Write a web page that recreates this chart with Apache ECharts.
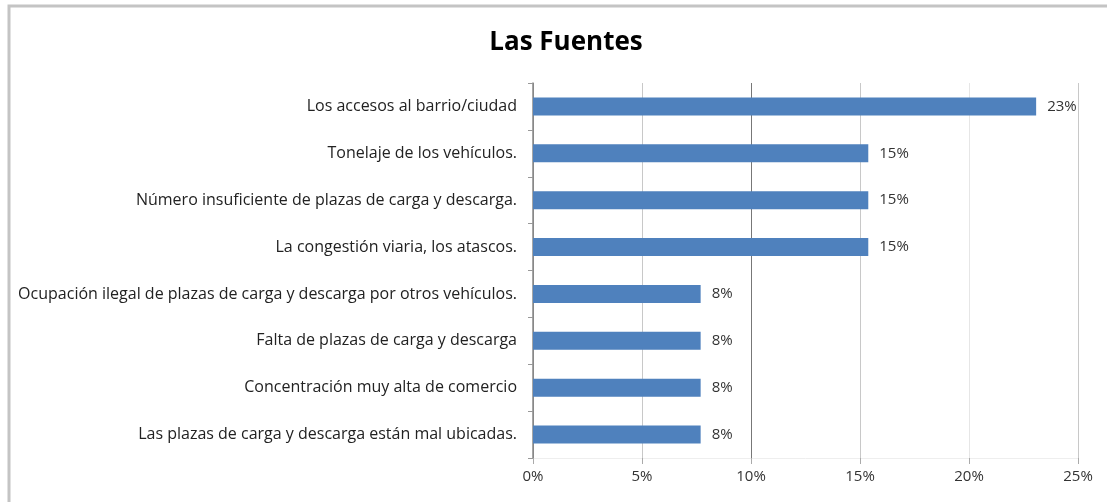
<!DOCTYPE html>
<html>
<head>
<meta charset="utf-8">
<script src="https://cdn.jsdelivr.net/npm/echarts@6/dist/echarts.min.js"></script>
<style>
  html, body { margin: 0; padding: 0; background: #fff; }
  #chart { width: 1107px; height: 502px; }
</style>
</head>
<body>
<div id="chart"></div>
<script>
// categorías (de arriba a abajo) y porcentajes
var categorias = [
    'Los accesos al barrio/ciudad',
    'Tonelaje de los vehículos.',
    'Número insuficiente de plazas de carga y descarga.',
    'La congestión viaria, los atascos.',
    'Ocupación ilegal de plazas de carga y descarga por otros vehículos.',
    'Falta de plazas de carga y descarga',
    'Concentración muy alta de comercio',
    'Las plazas de carga y descarga están mal ubicadas.'
];
var valores = [23.08, 15.38, 15.38, 15.38, 7.69, 7.69, 7.69, 7.69];
var ticksX = [0, 5, 10, 15, 20, 25];

var chart = echarts.init(document.getElementById('chart'));

var option = {
    backgroundColor: '#fff',
    textStyle: { fontFamily: 'Open Sans' },
    title: {
        text: 'Las Fuentes',
        left: 561,
        textAlign: 'center',
        top: 25,
        textStyle: { fontFamily: 'Open Sans', fontSize: 26, fontWeight: 'bold', color: '#000' }
    },
    graphic: [{
        type: 'polyline',
        shape: { points: [[9, 510], [9, 6], [1115, 6]] },
        style: { stroke: '#c4c4c4', lineWidth: 3, fill: null }
    }],
    grid: { left: 533, right: 29, top: 83, bottom: 44 },
    xAxis: {
        type: 'value',
        min: ticksX[0],
        max: ticksX[ticksX.length - 1],
        interval: 5,
        axisLine: { show: true, lineStyle: { color: '#eee' } },
        axisTick: { show: true, length: 6, lineStyle: { color: '#aaa' } },
        axisLabel: {
            formatter: '{value}%',
            color: '#333',
            fontSize: 15,
            margin: 11
        },
        splitLine: {
            show: true,
            lineStyle: { color: ['#888', '#c8c8c8', '#777', '#c8c8c8', '#e6e6e6', '#c8c8c8'] }
        }
    },
    yAxis: {
        type: 'category',
        inverse: true,
        data: categorias,
        axisLine: { show: true, lineStyle: { color: '#888', width: 1.5 } },
        axisTick: { show: true, length: 5, lineStyle: { color: '#999' } },
        axisLabel: { color: '#222', fontSize: 16, margin: 16 }
    },
    series: [{
        type: 'bar',
        data: valores,
        barWidth: 18,
        itemStyle: { color: '#4f81bd' },
        label: {
            show: true,
            position: 'right',
            distance: 11,
            color: '#333',
            fontSize: 15,
            formatter: function (p) { return Math.round(p.value) + '%'; }
        }
    }]
};

chart.setOption(option);
</script>
</body>
</html>
